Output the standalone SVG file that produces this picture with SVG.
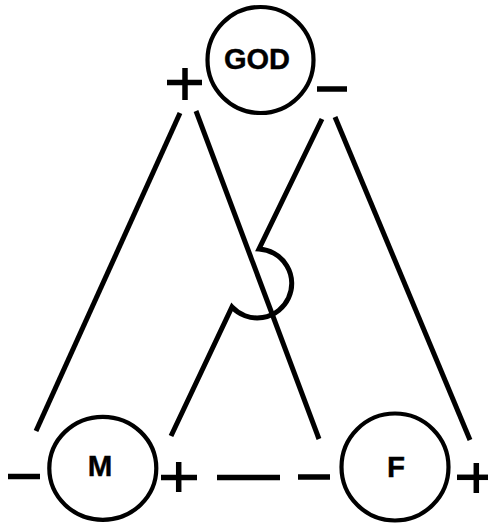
<svg xmlns="http://www.w3.org/2000/svg" width="489" height="524" viewBox="0 0 489 524">
  <style>
    .node { fill: none; stroke: #000; stroke-width: 4.2; }
    .label { font-family: "Liberation Sans", Arial, sans-serif; font-weight: bold; fill: #000; text-anchor: middle; }
    .conn { fill: none; stroke: #000; stroke-width: 5; stroke-linecap: butt; }
    .sign { fill: none; stroke: #000; stroke-width: 5.5; stroke-linecap: butt; }
  </style>
  <rect width="489" height="524" fill="#fff"/>
  <g id="connectors">
    <line class="conn" x1="180" y1="113" x2="36" y2="431"/>
    <line class="conn" x1="196" y1="111" x2="319" y2="439"/>
    <path class="conn" d="M322,119 L259,249 A34.5,34.5 0 1,1 232,307 L171,436"/>
    <line class="conn" x1="335" y1="117" x2="470" y2="440"/>
    <line class="sign" x1="217" y1="477.5" x2="280" y2="477.5"/>
  </g>
  <g id="god">
    <circle class="node" cx="260.5" cy="60" r="53"/>
    <text class="label" x="257" y="68.5" font-size="29" stroke="#000" stroke-width="0.4">GOD</text>
    <g id="god-plus">
      <line class="sign" x1="167" y1="82.5" x2="202" y2="82.5"/>
      <line class="sign" x1="185" y1="68" x2="185" y2="100"/>
    </g>
    <line id="god-minus" class="sign" x1="317" y1="89" x2="347" y2="89"/>
  </g>
  <g id="m">
    <ellipse class="node" cx="102.8" cy="468.3" rx="53.5" ry="51.5"/>
    <text class="label" x="100" y="475.5" font-size="29.5" stroke="#000" stroke-width="0.4">M</text>
    <line id="m-minus" class="sign" x1="8" y1="476.5" x2="40" y2="476.5"/>
    <g id="m-plus">
      <line class="sign" x1="161" y1="477.5" x2="197" y2="477.5"/>
      <line class="sign" x1="178.7" y1="462" x2="178.7" y2="492"/>
    </g>
  </g>
  <g id="f">
    <circle class="node" cx="395" cy="467" r="53.5"/>
    <text class="label" x="396" y="477" font-size="29.5" stroke="#000" stroke-width="0.4">F</text>
    <line id="f-minus" class="sign" x1="298" y1="477" x2="330" y2="477"/>
    <g id="f-plus">
      <line class="sign" x1="457" y1="477.3" x2="488" y2="477.3"/>
      <line class="sign" x1="476.3" y1="463" x2="476.3" y2="493"/>
    </g>
  </g>
</svg>
